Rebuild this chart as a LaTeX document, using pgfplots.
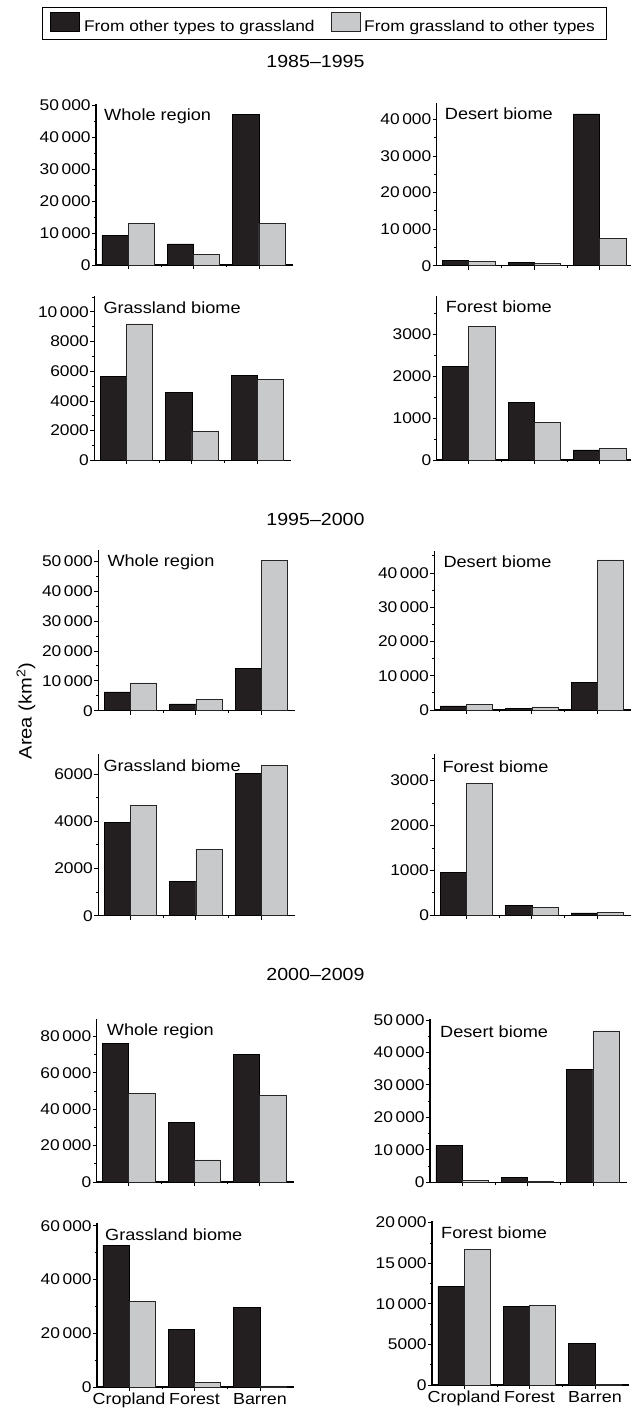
\documentclass[border=0pt]{standalone}
\usepackage{fontspec}
\setmainfont[FakeStretch=1.12]{Liberation Sans}
\usepackage{pgfplots}
\pgfplotsset{compat=1.18}
\definecolor{barblack}{HTML}{231F20}
\definecolor{bargray}{HTML}{C8C9CA}
\pgfplotsset{
  panel/.style={
    scale only axis, width=197pt,
    xmin=-0.49, xmax=2.52, ymin=0,
    axis x line=bottom, axis y line=left,
    axis line style={-, line width=1.1pt, black},
    xtick={0,1,2}, xticklabels={},
    minor tick num=1,
    tick align=outside, major tick length=4pt, minor tick length=2.5pt,
    tick style={line width=0.8pt, black},
    minor x tick style={line width=0.5pt},
    every tick label/.append style={font=\fontsize{15.5}{17}\selectfont, inner sep=1.2pt},
    /pgf/number format/assume math mode=true,
    /pgf/number format/1000 sep={\,},
    /pgf/number format/min exponent for 1000 sep=4,
    scaled y ticks=false,
    anchor=south west, clip=false,
  },
  blk/.style={ybar, bar width=0.4, bar shift=-0.2, fill=barblack, draw=black, line width=0.6pt},
  gry/.style={ybar, bar width=0.4, bar shift=0.2, fill=bargray, draw=black!85, line width=0.6pt},
  xlab/.style={xticklabels={Cropland,Forest,Barren},
    x tick label style={font=\fontsize{16}{18}\selectfont, inner sep=2pt}},
}
\tikzset{plabel/.style={anchor=north west, inner sep=0pt, font=\fontsize{16.2}{18}\selectfont}}
\begin{document}
\begin{tikzpicture}[x=1pt,y=1pt]
\useasboundingbox (0,0) rectangle (631,1415);
\clip (0,0) rectangle (631,1415);

% titles
\node[font=\fontsize{17.5}{19}\selectfont] at (315.5,1354) {1985–1995};
\node[font=\fontsize{17.5}{19}\selectfont] at (315.5,896) {1995–2000};
\node[font=\fontsize{17.5}{19}\selectfont] at (315.5,441) {2000–2009};
\node[rotate=90, font=\fontsize{18}{20}\selectfont] at (26,704) {Area (km\textsuperscript{2})};

% ---------- 1985-1995 ----------
\begin{axis}[panel, at={(96pt,1150pt)}, height=161pt, ymax=50300, ytick distance=10000,
  legend columns=2,
  legend style={at={(-0.274,1.602)}, anchor=north west, draw=black, line width=0.8pt,
    inner xsep=8pt, inner ysep=5pt, font=\fontsize{15.5}{17}\selectfont,
    nodes={inner xsep=4pt, inner ysep=1pt},
    /tikz/every even column/.append style={column sep=12pt}},
  legend image code/.code={\draw[#1, line width=0.6pt] (0pt,-5pt) rectangle (29pt,14pt);}]
\addplot[blk] coordinates {(0,9170) (1,6560) (2,47100)};
\addplot[gry] coordinates {(0,13000) (1,3300) (2,13000)};
\legend{From other types to grassland, From grassland to other types}
\node[plabel] at ([xshift=8pt,yshift=-5pt]rel axis cs:0,1) {Whole region};
\end{axis}

\begin{axis}[panel, at={(436.7pt,1149.3pt)}, height=163pt, ymax=44550, ytick distance=10000]
\addplot[blk] coordinates {(0,1550) (1,800) (2,41500)};
\addplot[gry] coordinates {(0,1100) (1,550) (2,7560)};
\node[plabel] at ([xshift=8pt,yshift=-5pt]rel axis cs:0,1) {Desert biome};
\end{axis}

\begin{axis}[panel, at={(94.3pt,954.7pt)}, height=164pt, ymax=11050, ytick distance=2000]
\addplot[blk] coordinates {(0,5630) (1,4550) (2,5740)};
\addplot[gry] coordinates {(0,9190) (1,1950) (2,5450)};
\node[plabel] at ([xshift=9pt,yshift=-5pt]rel axis cs:0,1) {Grassland biome};
\end{axis}

\begin{axis}[panel, at={(436.7pt,955pt)}, height=164pt, ymax=3905, ytick distance=1000]
\addplot[blk] coordinates {(0,2220) (1,1365) (2,238)};
\addplot[gry] coordinates {(0,3175) (1,889) (2,270)};
\node[plabel] at ([xshift=9pt,yshift=-5pt]rel axis cs:0,1) {Forest biome};
\end{axis}

% ---------- 1995-2000 ----------
\begin{axis}[panel, at={(98.3pt,704.3pt)}, height=161pt, ymax=53900, ytick distance=10000]
\addplot[blk] coordinates {(0,6260) (1,2240) (2,14200)};
\addplot[gry] coordinates {(0,9280) (1,3900) (2,50400)};
\node[plabel] at ([xshift=9pt,yshift=-5pt]rel axis cs:0,1) {Whole region};
\end{axis}

\begin{axis}[panel, at={(434.3pt,705pt)}, height=159pt, ymax=46400, ytick distance=10000]
\addplot[blk] coordinates {(0,1170) (1,400) (2,8000)};
\addplot[gry] coordinates {(0,1650) (1,900) (2,43800)};
\node[plabel] at ([xshift=9pt,yshift=-5pt]rel axis cs:0,1) {Desert biome};
\end{axis}

\begin{axis}[panel, at={(98.3pt,499.3pt)}, height=162pt, ymax=6863, ytick distance=2000]
\addplot[blk] coordinates {(0,3950) (1,1443) (2,6042)};
\addplot[gry] coordinates {(0,4684) (1,2816) (2,6382)};
\node[plabel] at ([xshift=5pt,yshift=-6pt]rel axis cs:0,1) {Grassland biome};
\end{axis}

\begin{axis}[panel, at={(434.3pt,499.7pt)}, height=161pt, ymax=3585, ytick distance=1000]
\addplot[blk] coordinates {(0,948) (1,215) (2,52)};
\addplot[gry] coordinates {(0,2933) (1,170) (2,60)};
\node[plabel] at ([xshift=8pt,yshift=-6pt]rel axis cs:0,1) {Forest biome};
\end{axis}

% ---------- 2000-2009 ----------
\begin{axis}[panel, at={(96.7pt,233pt)}, height=163pt, ymax=89500, ytick distance=20000]
\addplot[blk] coordinates {(0,76300) (1,32800) (2,69900)};
\addplot[gry] coordinates {(0,48800) (1,12100) (2,47500)};
\node[plabel] at ([xshift=10pt,yshift=-5pt]rel axis cs:0,1) {Whole region};
\end{axis}

\begin{axis}[panel, at={(430pt,232.7pt)}, height=163pt, ymax=50200, ytick distance=10000]
\addplot[blk] coordinates {(0,11300) (1,1500) (2,34800)};
\addplot[gry] coordinates {(0,600) (1,200) (2,46600)};
\node[plabel] at ([xshift=10pt,yshift=-6pt]rel axis cs:0,1) {Desert biome};
\end{axis}

\begin{axis}[panel, xlab, at={(97pt,28pt)}, height=164pt, ymax=61000, ytick distance=20000]
\addplot[blk] coordinates {(0,52600) (1,21300) (2,29700)};
\addplot[gry] coordinates {(0,31900) (1,1740) (2,400)};
\node[plabel] at ([xshift=8pt,yshift=-6pt]rel axis cs:0,1) {Grassland biome};
\end{axis}

\begin{axis}[panel, xlab, at={(432pt,30pt)}, height=164pt, ymax=20200, ytick distance=5000]
\addplot[blk] coordinates {(0,12100) (1,9700) (2,5080)};
\addplot[gry] coordinates {(0,16700) (1,9840) (2,50)};
\node[plabel] at ([xshift=9pt,yshift=-6pt]rel axis cs:0,1) {Forest biome};
\end{axis}
\end{tikzpicture}
\end{document}
